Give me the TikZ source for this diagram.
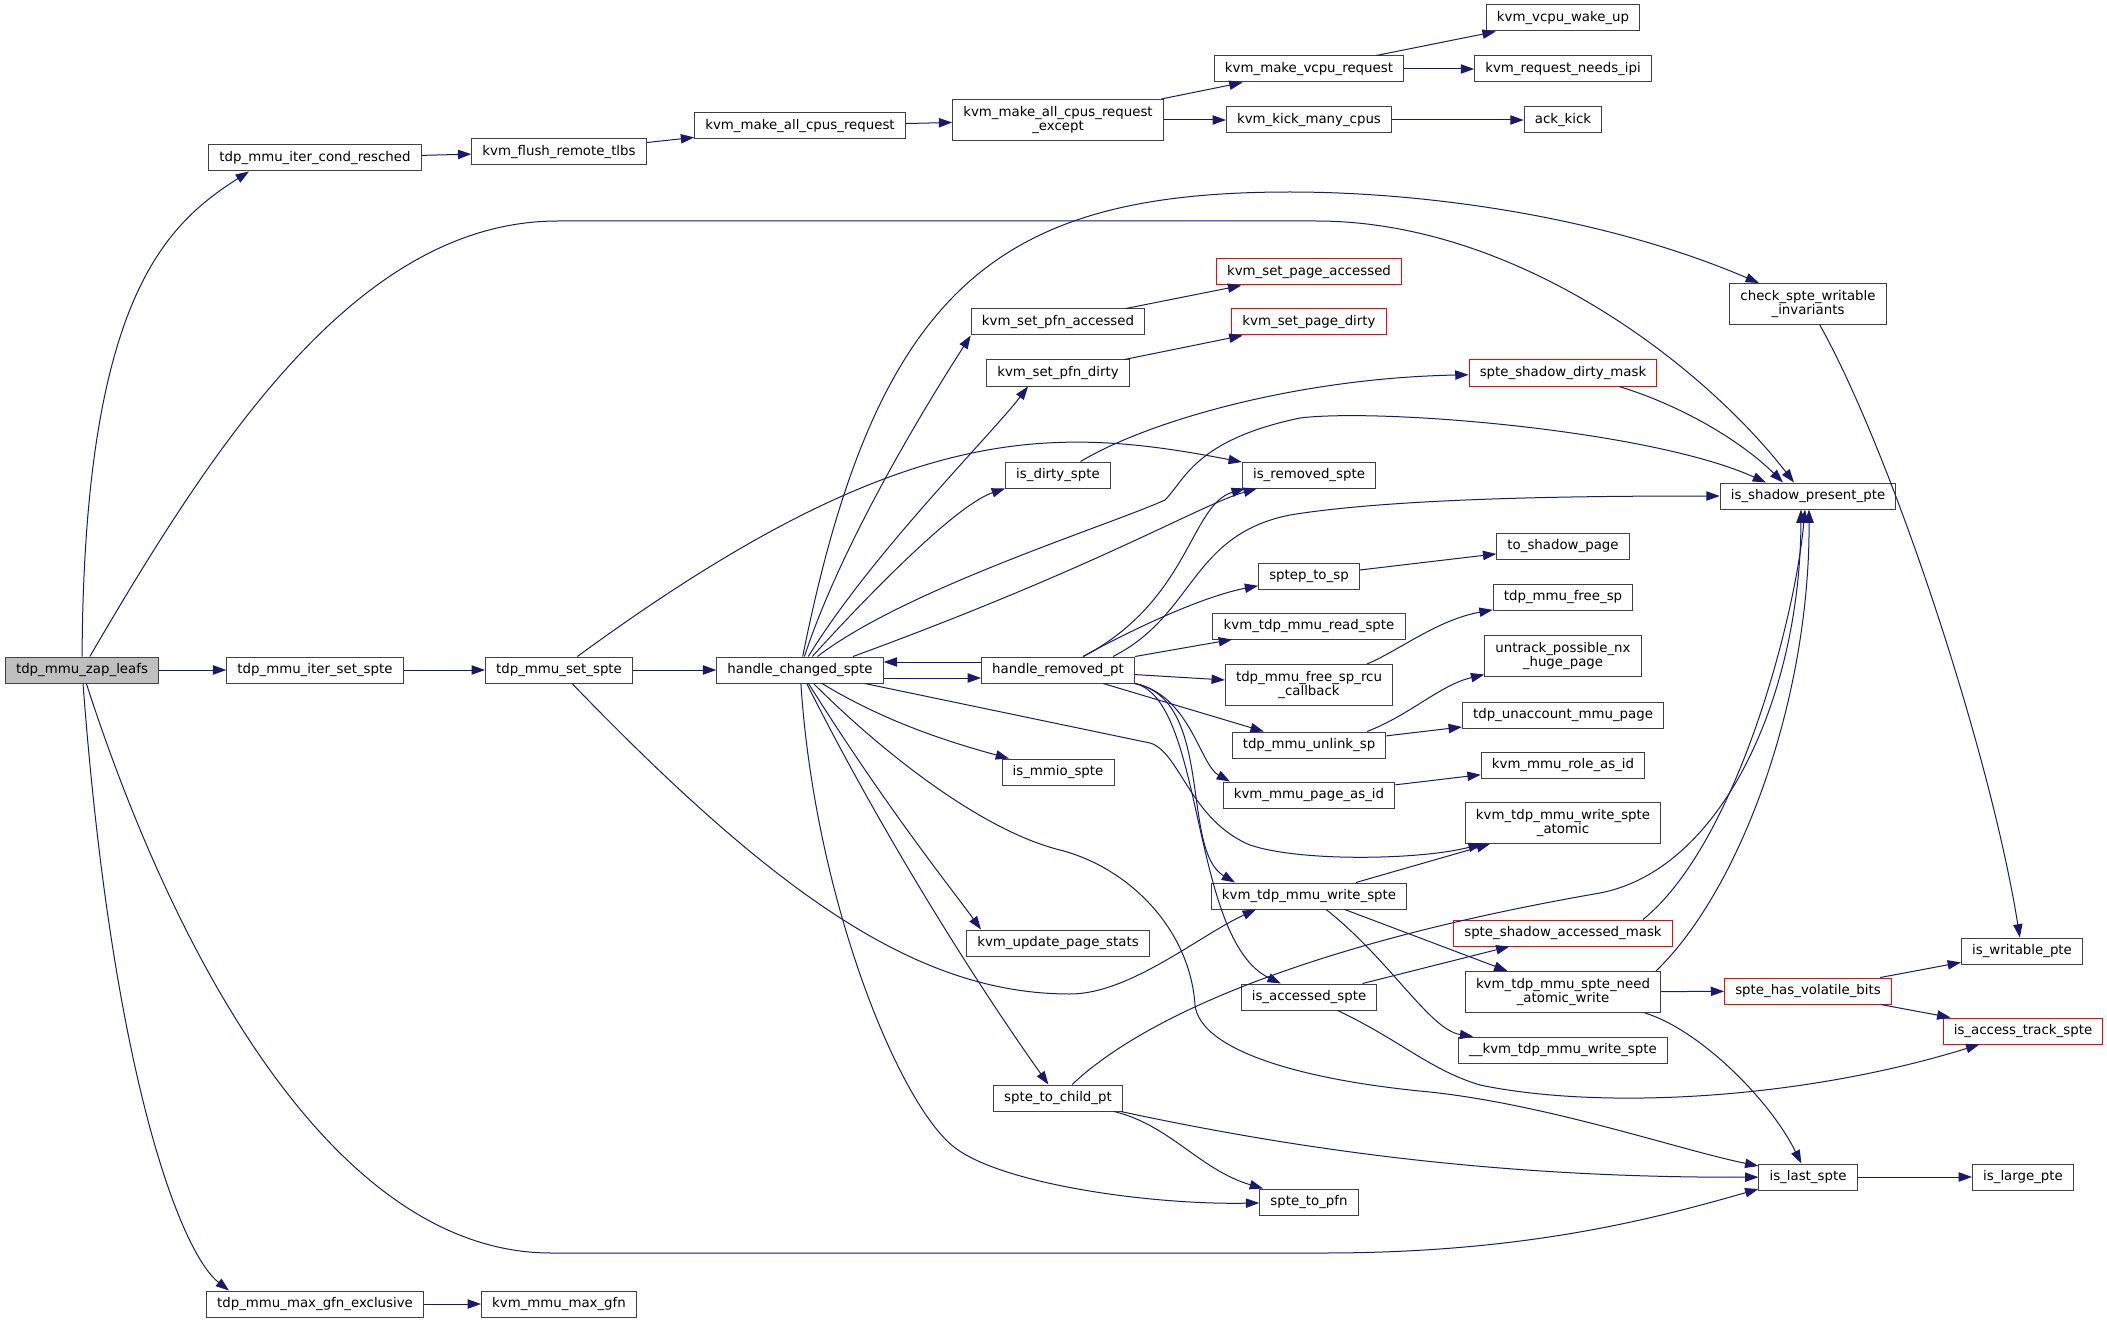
\documentclass[tikz,border=0pt]{standalone}
\usepackage{fontspec}
\setmainfont{DejaVu Sans}
\usetikzlibrary{arrows.meta,calc}
\definecolor{edgeblue}{HTML}{191970}
\definecolor{boxgray}{HTML}{404040}
\definecolor{rootgray}{HTML}{BFBFBF}

\begin{document}
\begin{tikzpicture}
    [x=0.75pt,y=-0.75pt,font=\fontsize{10}{11.1}\selectfont,
    func/.style={draw=boxgray,fill=white,line width=0.75pt,inner xsep=8pt,inner ysep=2pt,minimum height=19.5pt,align=center},
    trunc/.style={func,draw=red},
    root/.style={func,fill=rootgray},
    twoline/.style={minimum height=30.75pt},
    call/.style={-{Triangle[length=10pt,width=7pt]},edgeblue,line width=0.75pt}]

    \useasboundingbox[fill=white] (0,0) rectangle (2107,1323);

    \node[root] (zap) at (82,670) {tdp\_mmu\_zap\_leafs};
    \node[func] (condresched) at (315,158) {tdp\_mmu\_iter\_cond\_resched};
    \node[func] (itersetspte) at (315,670) {tdp\_mmu\_iter\_set\_spte};
    \node[func] (maxgfnexcl) at (315,1304) {tdp\_mmu\_max\_gfn\_exclusive};
    \node[func] (flushtlbs) at (559,152) {kvm\_flush\_remote\_tlbs};
    \node[func] (setspte) at (559,670) {tdp\_mmu\_set\_spte};
    \node[func] (maxgfn) at (559,1304) {kvm\_mmu\_max\_gfn};
    \node[func] (allcpus) at (800,126) {kvm\_make\_all\_cpus\_request};
    \node[func] (changed) at (800,670) {handle\_changed\_spte};
    \node[func,twoline] (allcpusex) at (1058,120) {kvm\_make\_all\_cpus\_request\\\_except};
    \node[func] (pfnaccessed) at (1058,322) {kvm\_set\_pfn\_accessed};
    \node[func] (pfndirty) at (1058,373) {kvm\_set\_pfn\_dirty};
    \node[func] (dirty) at (1058,475) {is\_dirty\_spte};
    \node[func] (removedpt) at (1058,670) {handle\_removed\_pt};
    \node[func] (mmio) at (1058,772) {is\_mmio\_spte};
    \node[func] (pagestats) at (1058,943) {kvm\_update\_page\_stats};
    \node[func] (childpt) at (1058,1098) {spte\_to\_child\_pt};
    \node[func] (vcpureq) at (1309,69) {kvm\_make\_vcpu\_request};
    \node[func] (kickmany) at (1309,120) {kvm\_kick\_many\_cpus};
    \node[trunc] (pageaccessed) at (1309,272) {kvm\_set\_page\_accessed};
    \node[trunc] (pagedirty) at (1309,322) {kvm\_set\_page\_dirty};
    \node[func] (removed) at (1309,475) {is\_removed\_spte};
    \node[func] (sptepsp) at (1309,576) {sptep\_to\_sp};
    \node[func] (readspte) at (1309,626) {kvm\_tdp\_mmu\_read\_spte};
    \node[func,twoline] (rcucb) at (1309,685) {tdp\_mmu\_free\_sp\_rcu\\\_callback};
    \node[func] (unlink) at (1309,745) {tdp\_mmu\_unlink\_sp};
    \node[func] (pageasid) at (1309,795) {kvm\_mmu\_page\_as\_id};
    \node[func] (writespte) at (1309,896) {kvm\_tdp\_mmu\_write\_spte};
    \node[func] (accessed) at (1309,997) {is\_accessed\_spte};
    \node[func] (sptepfn) at (1309,1202) {spte\_to\_pfn};
    \node[func] (wakeup) at (1563,18) {kvm\_vcpu\_wake\_up};
    \node[func] (needsipi) at (1563,69) {kvm\_request\_needs\_ipi};
    \node[func] (ackkick) at (1563,120) {ack\_kick};
    \node[trunc] (dirtymask) at (1563,373) {spte\_shadow\_dirty\_mask};
    \node[func] (toshadow) at (1563,546) {to\_shadow\_page};
    \node[func] (freesp) at (1563,597) {tdp\_mmu\_free\_sp};
    \node[func,twoline] (untrack) at (1563,656) {untrack\_possible\_nx\\\_huge\_page};
    \node[func] (unaccount) at (1563,715) {tdp\_unaccount\_mmu\_page};
    \node[func] (roleasid) at (1563,765) {kvm\_mmu\_role\_as\_id};
    \node[func,twoline] (writeatomic) at (1563,823) {kvm\_tdp\_mmu\_write\_spte\\\_atomic};
    \node[trunc] (accessedmask) at (1563,933) {spte\_shadow\_accessed\_mask};
    \node[func,twoline] (needatomic) at (1563,992) {kvm\_tdp\_mmu\_spte\_need\\\_atomic\_write};
    \node[func] (rawwrite) at (1563,1050) {\_\_kvm\_tdp\_mmu\_write\_spte};
    \node[func,twoline] (checkwritable) at (1808,304) {check\_spte\_writable\\\_invariants};
    \node[func] (present) at (1808,496) {is\_shadow\_present\_pte};
    \node[trunc] (volatile) at (1808,991) {spte\_has\_volatile\_bits};
    \node[func] (last) at (1808,1177) {is\_last\_spte};
    \node[func] (writable) at (2022,951) {is\_writable\_pte};
    \node[trunc] (accesstrack) at (2023,1031) {is\_access\_track\_spte};
    \node[func] (large) at (2023,1177) {is\_large\_pte};

    \draw[call] (zap) .. controls (84,300) and (165,225) .. ($(condresched.south)+(-66,0)$);
    \draw[call] (zap) -- (itersetspte);
    \draw[call] (zap) .. controls (215,442) and (358,221) .. (558,221) -- (1316,221) .. controls (1516,221) and (1702,364) .. ($(present.north)+(-14,0)$);
    \draw[call] (zap) .. controls (172,949) and (331,1253) .. (551,1253) -- (1323,1253) .. controls (1523,1253) and (1650,1220) .. ($(last.west)+(0,12)$);
    \draw[call] (zap) .. controls (113,1082) and (182,1254) .. ($(maxgfnexcl.north)+(-86,0)$);
    \draw[call] (condresched) -- (flushtlbs);
    \draw[call] (flushtlbs) -- (allcpus);
    \draw[call] (allcpus) -- (allcpusex);
    \draw[call] (allcpusex) -- (vcpureq);
    \draw[call] (allcpusex) -- (kickmany);
    \draw[call] (vcpureq) -- (wakeup);
    \draw[call] (vcpureq) -- (needsipi);
    \draw[call] (kickmany) -- (ackkick);
    \draw[call] (itersetspte) -- (setspte);
    \draw[call] (setspte) -- (changed);
    \draw[call] (setspte) .. controls (900,420) and (1050,425) .. (removed);
    \draw[call] (setspte) .. controls (780,899) and (920,994) .. (1070,994) .. controls (1130,994) and (1200,935) .. ($(writespte.south)+(-53,0)$);
    \draw[call] (changed) .. controls (877,285) and (1000,192) .. (1290,192) .. controls (1420,192) and (1600,215) .. (checkwritable);
    \draw[call] (changed) .. controls (842,542) and (928,402) .. (pfnaccessed.south west);
    \draw[call] (changed) .. controls (872,553) and (992,434) .. ($(pfndirty.south)+(-30,0)$);
    \draw[call] (changed) .. controls (881,581) and (959,504) .. (dirty.south west);
    \draw[call] ($(changed.north)+(53,0)$) .. controls (1100,566) and (1200,505) .. ($(removed.south west)+(15,0)$);
    \draw[call] (changed) .. controls (905,589) and (1110,525) .. (1165,500) .. controls (1185,480) and (1195,440) .. (1300,418) .. controls (1380,408) and (1650,430) .. ($(present.north)+(-42,0)$);
    \draw[call] ($(changed.east)+(0,8)$) -- ($(removedpt.west)+(0,8)$);
    \draw[call] ($(removedpt.west)+(0,-8)$) -- ($(changed.east)+(0,-8)$);
    \draw[call] (changed) .. controls (890,725) and (960,745) .. (mmio);
    \draw[call] (changed) .. controls (888,810) and (951,888) .. ($(pagestats.north)+(-77,0)$);
    \draw[call] (changed) .. controls (870,810) and (960,960) .. (childpt);
    \draw[call] (changed) .. controls (815,900) and (899,1104) .. (954,1147) .. controls (1001,1184) and (1150,1205) .. (sptepfn);
    \draw[call] (changed) .. controls (880,750) and (980,830) .. (1060,850) .. controls (1130,868) and (1190,930) .. (1195,1005) .. controls (1200,1050) and (1300,1080) .. (1430,1092) .. controls (1550,1105) and (1680,1150) .. ($(last.west)+(0,-11)$);
    \draw[call] (changed) -- (1150,743) .. controls (1180,752) and (1190,820) .. (1250,845) .. controls (1300,862) and (1420,860) .. (writeatomic);
    \draw[call] (removedpt) .. controls (1190,600) and (1190,505) .. ($(removed.south west)+(3,0)$);
    \draw[call] ($(removedpt.north)+(55,0)$) .. controls (1195,615) and (1190,535) .. (1290,515) .. controls (1400,497) and (1600,496) .. (present);
    \draw[call] (removedpt) .. controls (1150,620) and (1210,595) .. (sptepsp);
    \draw[call] (removedpt) -- (readspte);
    \draw[call] (removedpt) -- (rcucb);
    \draw[call] (removedpt) -- (unlink);
    \draw[call] (removedpt.south east) .. controls (1190,695) and (1200,765) .. ($(pageasid.north)+(-79,0)$);
    \draw[call] (removedpt.south east) .. controls (1215,700) and (1180,850) .. ($(writespte.north)+(-74,0)$);
    \draw[call] (removedpt.south east) .. controls (1205,700) and (1190,940) .. (accessed);
    \draw[call] (pfnaccessed) -- (pageaccessed);
    \draw[call] (pfndirty) -- (pagedirty);
    \draw[call] (dirty) .. controls (1150,420) and (1300,378) .. (dirtymask);
    \draw[call] ($(dirtymask.south)+(56,0)$) .. controls (1680,405) and (1740,440) .. ($(present.north)+(-25,0)$);
    \draw[call] (sptepsp) -- (toshadow);
    \draw[call] ($(rcucb.north)+(58,0)$) .. controls (1400,650) and (1437,620) .. (freesp);
    \draw[call] ($(unlink.north)+(58,0)$) .. controls (1410,715) and (1440,685) .. (untrack);
    \draw[call] (unlink) -- (unaccount);
    \draw[call] (pageasid) -- (roleasid);
    \draw[call] (writespte) -- (writeatomic);
    \draw[call] (writespte) -- (needatomic);
    \draw[call] (writespte) .. controls (1390,960) and (1430,1030) .. (rawwrite);
    \draw[call] (accessed) -- (accessedmask);
    \draw[call] (accessed) .. controls (1400,1040) and (1430,1070) .. (1480,1085) .. controls (1600,1110) and (1800,1100) .. (accesstrack);
    \draw[call] ($(accessedmask.north)+(80,0)$) .. controls (1736,844) and (1795,620) .. ($(present.south)+(-3,0)$);
    \draw[call] (needatomic) -- (volatile);
    \draw[call] ($(needatomic.north)+(93,0)$) .. controls (1740,890) and (1810,700) .. ($(present.south)+(1,0)$);
    \draw[call] ($(needatomic.south)+(82,0)$) .. controls (1700,1030) and (1770,1100) .. (last);
    \draw[call] (volatile) -- (writable);
    \draw[call] (volatile) -- (accesstrack);
    \draw[call] (checkwritable) .. controls (1890,450) and (1990,750) .. (writable);
    \draw[call] (childpt) .. controls (1140,1020) and (1300,945) .. (1600,893) .. controls (1720,870) and (1800,700) .. ($(present.south)+(-7,0)$);
    \draw[call] (childpt) .. controls (1300,1150) and (1500,1178) .. (last);
    \draw[call] (childpt) .. controls (1170,1125) and (1200,1170) .. (sptepfn);
    \draw[call] (last) -- (large);
    \draw[call] (maxgfnexcl) -- (maxgfn);
\end{tikzpicture}
\end{document}
